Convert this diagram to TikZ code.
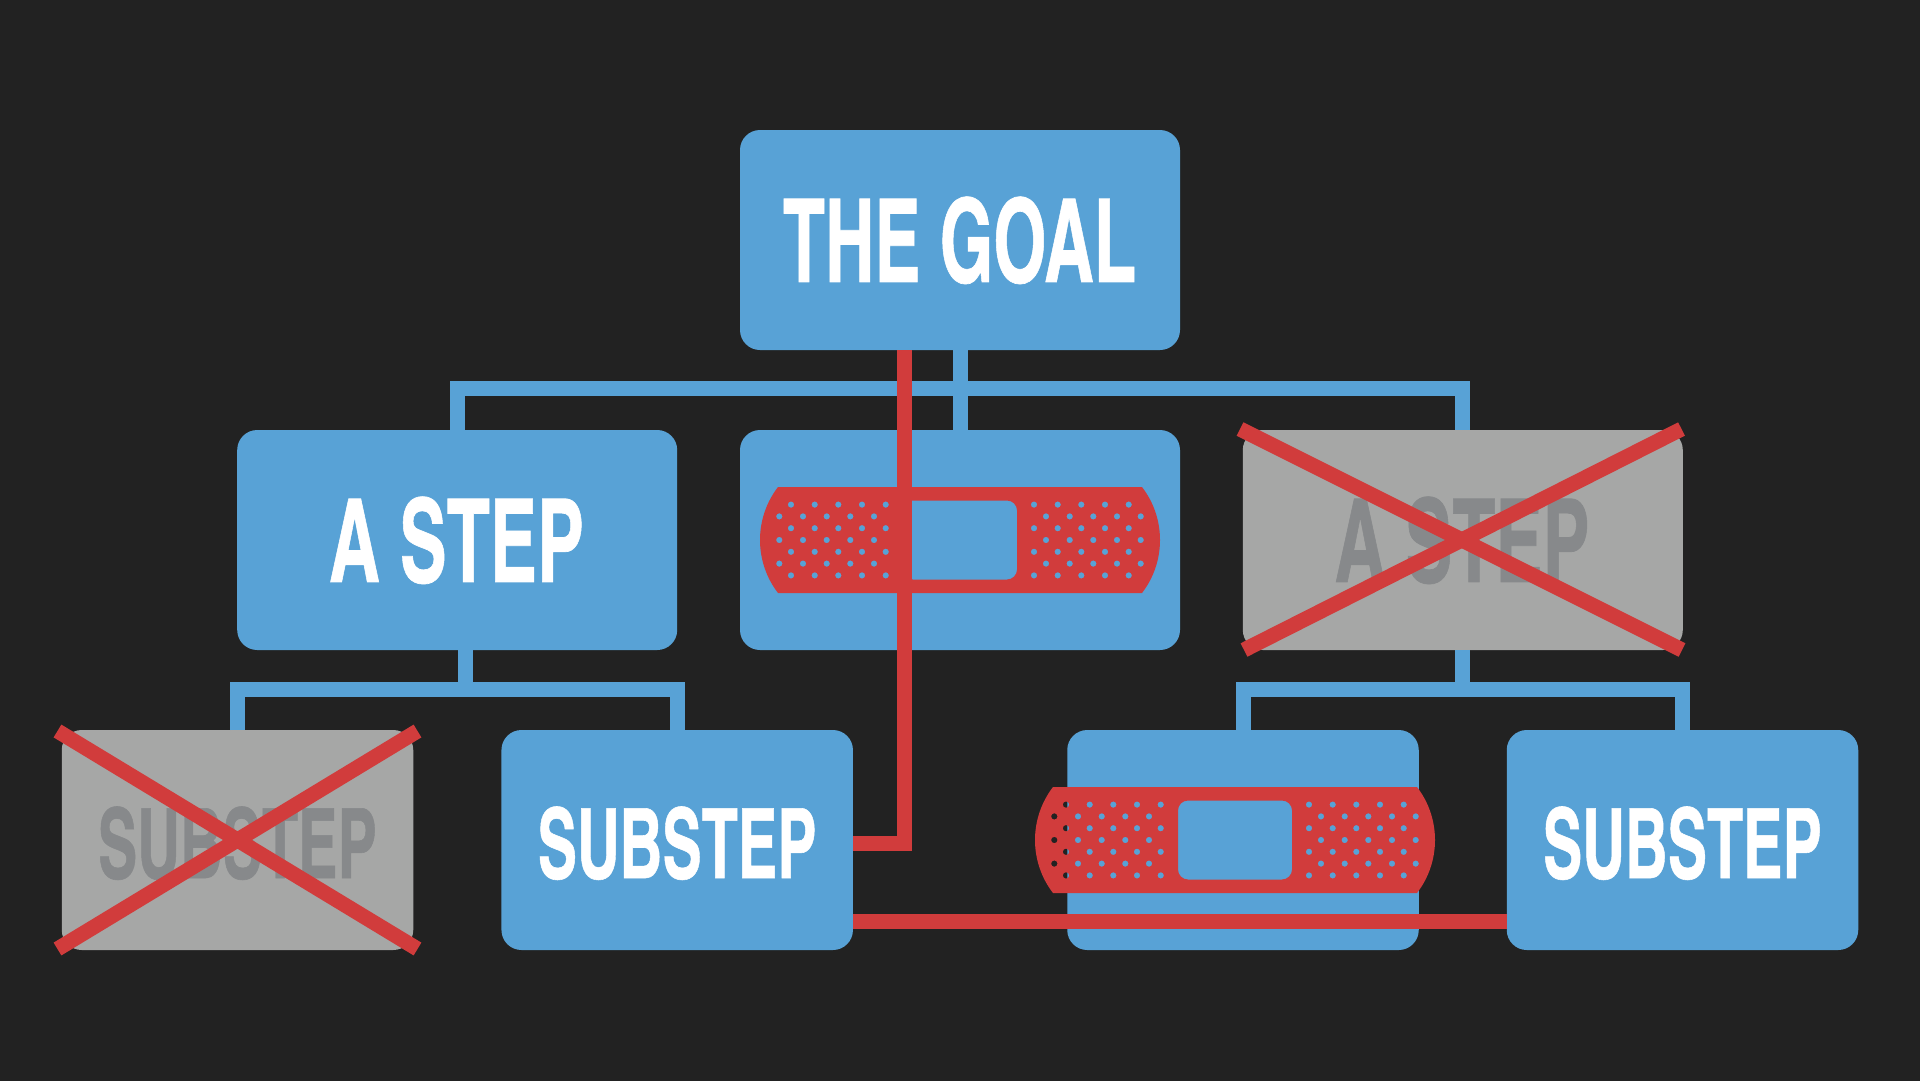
\documentclass[tikz,border=0pt]{standalone}
\usepackage{fontspec}
\usepackage{graphicx}
\setmainfont{TeX Gyre Heros Cn}[BoldFeatures={FakeBold=0.6}]
\definecolor{canvas}{HTML}{222222}
\definecolor{planblue}{HTML}{58A2D6}
\definecolor{fixred}{HTML}{D13C3C}
\definecolor{dropgrey}{HTML}{A6A7A6}
\definecolor{dropink}{HTML}{87898B}
% Heading text squeezed to an exact width and total height, centred on the
% node and then moved by (#3,#4)
\newcommand{\boxlabel}[5]{\hspace*{#3pt}\vbox to 0pt{\vss\kern#4pt\hbox{\resizebox*{#1pt}{#2pt}{\bfseries #5}}\vss}}
\tikzset{
  x=1pt, y=-1pt,
  card/.style={rectangle, rounded corners=20pt, inner sep=0pt, outer sep=0pt,
    minimum width=440pt, minimum height=220pt, fill=planblue, text=white},
  smallcard/.style={card, minimum width=351.5pt},
  dropped/.style={fill=dropgrey, text=dropink},
  link/.style={draw=planblue, line width=15pt},
  fix/.style={draw=fixred, line width=15pt},
  cross/.style={draw=fixred, line width=15pt},
  % Adhesive strip with a window and perforations that really are holes
  bandaid/.pic={
    \fill[fixred, even odd rule]
      [rounded corners=10pt] (-57,-39.5) rectangle (57,39.5) [sharp corners]
      (-182,-53) -- (182,-53)
      .. controls (206,-21.8) and (206,21.8) .. (182,53)
      -- (-182,53)
      .. controls (-206,21.8) and (-206,-21.8) .. (-182,-53) -- cycle
      foreach \py in {-35.4,-11.8,11.8,35.4} {
        foreach \px in {-169,-145.3,-121.7,-98,-74.3,74,97.7,121.3,145,168.7} {
          (\px,\py) circle[radius=3.2pt]
        }
      }
      foreach \py in {-23.6,0,23.6} {
        foreach \px in {-180.7,-157,-133.3,-109.7,-86,86,109.7,133.3,157,180.7} {
          (\px,\py) circle[radius=3.2pt]
        }
      };
  }
}
\begin{document}
\begin{tikzpicture}
  \useasboundingbox (0,0) rectangle (1920,1080);
  \fill[canvas] (-2,-2) rectangle (1922,1082);

  % Cards
  \node[card] (goal) at (960,240) {\boxlabel{353}{87.5}{-1}{0.7}{THE GOAL}};
  \node[card] (stepA) at (457.2,540) {\boxlabel{255}{87.5}{-1}{0.7}{A STEP}};
  \node[card] (stepB) at (960,540) {};
  \node[card, dropped] (stepC) at (1462.8,540) {\boxlabel{255}{87.5}{-1}{0.7}{A STEP}};
  \node[smallcard, dropped] (subA) at (237.5,840) {\boxlabel{279}{73.5}{0}{6.4}{SUBSTEP}};
  \node[smallcard] (subB) at (677.2,840) {\boxlabel{279}{73.5}{0}{6.4}{SUBSTEP}};
  \node[smallcard] (subC) at (1243,840) {};
  \node[smallcard] (subD) at (1682.5,840) {\boxlabel{279}{73.5}{0}{6.4}{SUBSTEP}};

  % Tree connectors
  \coordinate (busTop) at (960,388.5);
  \coordinate (stemA) at (465,650);
  \coordinate (busA) at (465,689.8);
  \coordinate (busB) at (1462.8,689.8);
  \draw[link] (goal.south) -- (stepB.north);
  \draw[link] (stepA.north) |- (busTop) -| (stepC.north);
  \draw[link] (stemA) -- (busA);
  \draw[link] (subA.north) |- (busA) -| (subB.north);
  \draw[link] (stepC.south) -- (busB);
  \draw[link] (subC.north) |- (busB) -| (subD.north);

  % Patches
  \pic (patchA) at (960,540) {bandaid};
  \pic (patchB) at (1235,840) {bandaid};

  % Workaround routes
  \coordinate (routeTop) at (904.2,350);
  \coordinate (routeEnd) at (852.7,843);
  \coordinate (lowStart) at (852.7,921.3);
  \coordinate (lowEnd) at (1507,921.3);
  \draw[fix] (routeTop) |- (routeEnd);
  \draw[fix] (lowStart) -- (lowEnd);

  % Crossed-out cards
  \coordinate (caTL) at (57.5,731);
  \coordinate (caTR) at (417.5,731);
  \coordinate (caBL) at (57.5,949);
  \coordinate (caBR) at (417.5,949);
  \draw[cross] (caTL) -- (caBR);
  \draw[cross] (caTR) -- (caBL);
  \coordinate (cbTL) at (1240,429);
  \coordinate (cbTR) at (1681.5,429);
  \coordinate (cbBL) at (1244,650);
  \coordinate (cbBR) at (1682,650);
  \draw[cross] (cbTL) -- (cbBR);
  \draw[cross] (cbTR) -- (cbBL);
\end{tikzpicture}
\end{document}
